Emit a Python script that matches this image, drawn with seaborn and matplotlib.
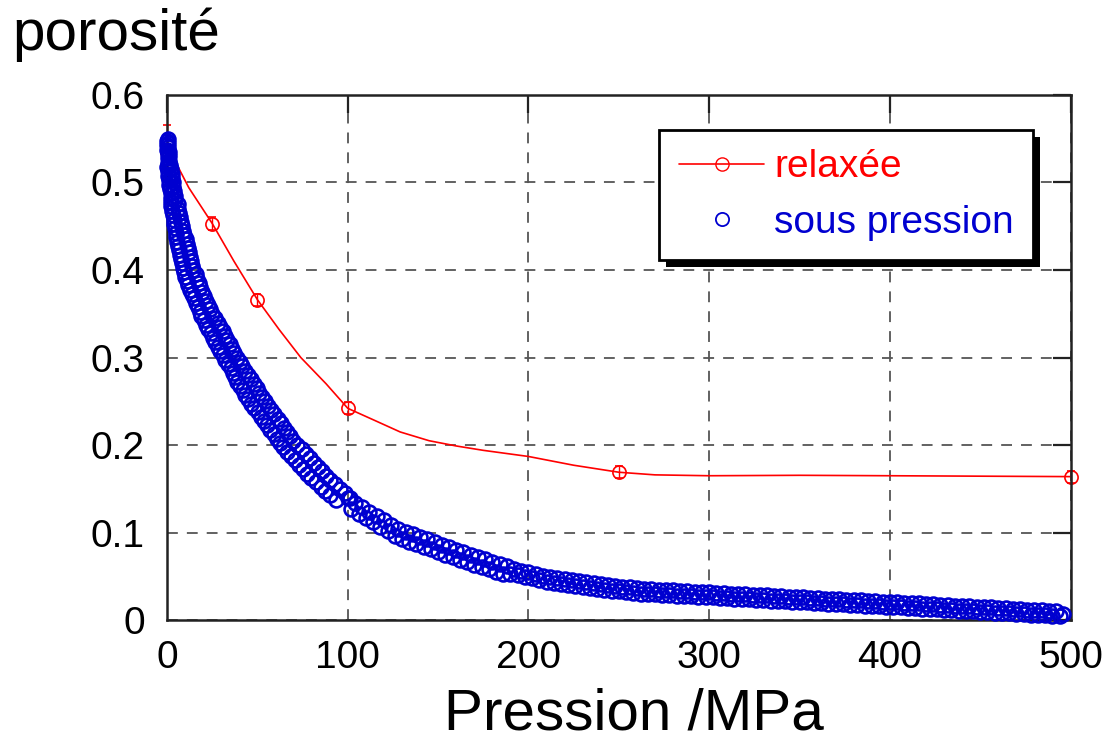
import matplotlib
matplotlib.use("Agg")
import matplotlib.pyplot as plt
import seaborn as sns
from matplotlib.lines import Line2D
from matplotlib.patches import Rectangle
from matplotlib.transforms import IdentityTransform

# ---------------- data ----------------
x_ticks = [0, 100, 200, 300, 400, 500]
y_ticks = [0, 0.1, 0.2, 0.3, 0.4, 0.5, 0.6]
y_tick_labels = ["0", "0.1", "0.2", "0.3", "0.4", "0.5", "0.6"]

# relaxed porosity: measured points with error bars
relaxee_P = [0, 25, 50, 100, 250, 500]
relaxee_phi = [0.535, 0.453, 0.366, 0.242, 0.1695, 0.1638]
relaxee_err = [0.031, 0.007, 0.007, 0.007, 0.007, 0.007]

# relaxed porosity: smooth guide curve
relaxee_curve_P = [0, 5, 12, 25, 37, 50, 62, 74, 88, 100, 114, 129, 145, 160,
                   175, 200, 225, 250, 270, 300, 350, 400, 450, 500]
relaxee_curve_phi = [0.535, 0.522, 0.494, 0.453, 0.41, 0.366, 0.332, 0.300,
                     0.270, 0.242, 0.229, 0.215, 0.205, 0.199, 0.194, 0.187,
                     0.177, 0.169, 0.166, 0.165, 0.1655, 0.165, 0.1645, 0.164]

sp_steep_P = [
    0.3, -0.2, 0.5, -0.05, 0.6, 0.1, 0.8, 0.3, 1.0, 0.5, 1.2, 0.7, 1.4,
    0.2, 2.3, 0.45, 2.6, 0.7, 2.8, 0.9, 3.0, 1.2, 3.4, 1.6, 3.8, 2.0, 4.2,
    2.4, 4.6,
    1.9, 5.9, 2.3, 6.3, 2.7, 6.7, 3.15, 7.2, 3.6, 7.6, 4.05, 8.1, 4.6, 8.7,
    5.15, 9.2,
    4.95, 10.4, 5.45, 10.9, 6.0, 11.5, 6.55, 12.0, 7.1, 12.6, 7.75, 13.3,
    8.4, 13.9, 9.05, 14.6,
    9.2, 16.0, 10.0, 16.8, 10.8, 17.6, 11.6, 18.4, 12.55, 19.5, 13.65, 20.6,
    14.75, 21.7, 15.85, 22.8, 16.9, 23.8, 18.0, 25.0,
    18.85, 26.7, 20.15, 28.0, 21.45, 29.3, 22.8, 30.7, 24.15, 32.0, 25.45,
    33.3, 26.75, 34.6, 28.1, 36.0, 29.45, 37.3, 30.75, 38.6, 32.15, 40.1,
    33.65, 41.6, 35.1, 43.0, 36.55, 44.5,
    37.45, 46.6, 38.95, 48.1, 40.45, 49.6, 41.9, 51.0, 43.35, 52.5, 44.9,
    54.1, 46.55, 55.8, 48.3, 57.6, 50.1, 59.4, 51.85, 61.1, 53.6, 62.9,
    55.35, 64.6, 57.1, 66.4, 58.9, 68.2, 60.65, 69.9, 62.4, 71.7,
    64.05, 74.4, 66.3, 76.6, 68.55, 78.9, 70.8, 81.1, 73.05, 83.4, 75.35,
    85.7, 77.65, 88.0, 79.9, 90.2, 82.25, 92.7, 84.9, 95.5, 87.65, 98.2,
    90.4, 101.0, 93.2]
sp_steep_phi = [
    0.5500, 0.5475, 0.5450, 0.5425, 0.5400, 0.5375, 0.5350, 0.5325, 0.5300,
    0.5275, 0.5250, 0.5225, 0.5200, 0.5175, 0.5150, 0.5125, 0.5100, 0.5075,
    0.5050, 0.5025, 0.5000, 0.4975, 0.4950, 0.4925, 0.4900, 0.4875, 0.4850,
    0.4825, 0.4800, 0.4775, 0.4750, 0.4725, 0.4700, 0.4675, 0.4650, 0.4625,
    0.4600, 0.4575, 0.4550, 0.4525, 0.4500, 0.4475, 0.4450, 0.4425, 0.4400,
    0.4375, 0.4350, 0.4325, 0.4300, 0.4275, 0.4250, 0.4225, 0.4200, 0.4175,
    0.4150, 0.4125, 0.4100, 0.4075, 0.4050, 0.4025, 0.4000, 0.3975, 0.3950,
    0.3925, 0.3900, 0.3875, 0.3850, 0.3825, 0.3800, 0.3775, 0.3750, 0.3725,
    0.3700, 0.3675, 0.3650, 0.3625, 0.3600, 0.3575, 0.3550, 0.3525, 0.3500,
    0.3475, 0.3450, 0.3425, 0.3400, 0.3375, 0.3350, 0.3325, 0.3300, 0.3275,
    0.3250, 0.3225, 0.3200, 0.3175, 0.3150, 0.3125, 0.3100, 0.3075, 0.3050,
    0.3025, 0.3000, 0.2975, 0.2950, 0.2925, 0.2900, 0.2875, 0.2850, 0.2825,
    0.2800, 0.2775, 0.2750, 0.2725, 0.2700, 0.2675, 0.2650, 0.2625, 0.2600,
    0.2575, 0.2550, 0.2525, 0.2500, 0.2475, 0.2450, 0.2425, 0.2400, 0.2375,
    0.2350, 0.2325, 0.2300, 0.2275, 0.2250, 0.2225, 0.2200, 0.2175, 0.2150,
    0.2125, 0.2100, 0.2075, 0.2050, 0.2025, 0.2000, 0.1975, 0.1950, 0.1925,
    0.1900, 0.1875, 0.1850, 0.1825, 0.1800, 0.1775, 0.1750, 0.1725, 0.1700,
    0.1675, 0.1650, 0.1625, 0.1600, 0.1575, 0.1550, 0.1525, 0.1500, 0.1475,
    0.1450, 0.1425, 0.1400, 0.1375]

# porosity under pressure: flat part
sp_flat_P = [
    100, 102, 104, 106, 108, 110, 112, 114, 116, 118, 120, 122, 124, 126, 128,
    130, 132, 134, 136, 138, 140, 142, 144, 146, 148, 150, 152, 154, 156, 158,
    160, 162, 164, 166, 168, 170, 172, 174, 176, 178, 180, 182, 184, 186, 188,
    190, 192, 194, 196, 198, 200, 202, 204, 206, 208, 210, 212, 214, 216, 218,
    220, 222, 224, 226, 228, 230, 232, 234, 236, 238, 240, 242, 244, 246, 248,
    250, 252, 254, 256, 258, 260, 262, 264, 266, 268, 270, 272, 274, 276, 278,
    280, 282, 284, 286, 288, 290, 292, 294, 296, 298, 300, 302, 304, 306, 308,
    310, 312, 314, 316, 318, 320, 322, 324, 326, 328, 330, 332, 334, 336, 338,
    340, 342, 344, 346, 348, 350, 352, 354, 356, 358, 360, 362, 364, 366, 368,
    370, 372, 374, 376, 378, 380, 382, 384, 386, 388, 390, 392, 394, 396, 398,
    400, 402, 404, 406, 408, 410, 412, 414, 416, 418, 420, 422, 424, 426, 428,
    430, 432, 434, 436, 438, 440, 442, 444, 446, 448, 450, 452, 454, 456, 458,
    460, 462, 464, 466, 468, 470, 472, 474, 476, 478, 480, 482, 484, 486, 488,
    490, 492, 494, 496]
sp_flat_phi = [
    0.1394, 0.1269, 0.1343, 0.1218, 0.1292, 0.1167, 0.1241, 0.1116, 0.1190,
    0.1065, 0.1139, 0.1014, 0.1088, 0.0963, 0.1043, 0.0928, 0.1013, 0.0898,
    0.0983, 0.0868, 0.0953, 0.0838, 0.0923, 0.0808, 0.0893, 0.0778, 0.0863,
    0.0748, 0.0833, 0.0719, 0.0805, 0.0692, 0.0778, 0.0664, 0.0750, 0.0636,
    0.0722, 0.0609, 0.0695, 0.0582, 0.0668, 0.0554, 0.0640, 0.0531, 0.0621,
    0.0532, 0.0583, 0.0514, 0.0564, 0.0495, 0.0546, 0.0477, 0.0527, 0.0458,
    0.0509, 0.0440, 0.0490, 0.0425, 0.0479, 0.0413, 0.0467, 0.0402, 0.0456,
    0.0390, 0.0444, 0.0379, 0.0433, 0.0367, 0.0421, 0.0356, 0.0410, 0.0346,
    0.0401, 0.0337, 0.0393, 0.0329, 0.0384, 0.0320, 0.0375, 0.0311,
    0.0365, 0.0305, 0.0357, 0.0299, 0.0353, 0.0295, 0.0348, 0.0290, 0.0344,
    0.0286, 0.0340, 0.0282, 0.0335, 0.0277, 0.0331, 0.0273, 0.0327, 0.0269,
    0.0322, 0.0264, 0.0318, 0.0260, 0.0314, 0.0256, 0.0309, 0.0251, 0.0305,
    0.0247, 0.0301, 0.0243, 0.0296, 0.0238, 0.0292, 0.0234, 0.0287, 0.0229,
    0.0283, 0.0225, 0.0278, 0.0220, 0.0274, 0.0216, 0.0270, 0.0212, 0.0265,
    0.0207, 0.0261, 0.0203, 0.0256, 0.0198, 0.0252, 0.0194, 0.0248, 0.0190,
    0.0243, 0.0185, 0.0239, 0.0181, 0.0234, 0.0176, 0.0230, 0.0172, 0.0226,
    0.0168, 0.0221, 0.0163, 0.0217, 0.0159, 0.0212, 0.0154, 0.0208, 0.0150,
    0.0204, 0.0146, 0.0200, 0.0141, 0.0195, 0.0137, 0.0191, 0.0132, 0.0186,
    0.0128, 0.0182, 0.0123, 0.0177, 0.0119, 0.0173, 0.0115, 0.0168, 0.0110,
    0.0164, 0.0106, 0.0160, 0.0101, 0.0155, 0.0097, 0.0151, 0.0092, 0.0146,
    0.0088, 0.0141, 0.0083, 0.0136, 0.0078, 0.0131, 0.0073, 0.0127, 0.0068,
    0.0122, 0.0064, 0.0117, 0.0059, 0.0112, 0.0054, 0.0107, 0.0049, 0.0103,
    0.0044, 0.0070]

labels = ["relaxée", "sous pression"]
red = "#ff0000"
blue = "#0000d0"

sous_pression_P = sp_steep_P + sp_flat_P
sous_pression_phi = sp_steep_phi + sp_flat_phi

# ---------------- style ----------------
sns.set_theme(style="white")
plt.rcParams["font.family"] = ["Liberation Sans", "DejaVu Sans"]
plt.rcParams["text.color"] = "black"

fig = plt.figure(figsize=(11.14, 7.41), dpi=100)
ax = fig.add_axes([0.150, 0.163, 0.811, 0.709])

# relaxed curve + points
sns.lineplot(x=relaxee_curve_P, y=relaxee_curve_phi, color=red, linewidth=1.2,
             sort=False, estimator=None, ax=ax, zorder=2)
ax.errorbar(relaxee_P, relaxee_phi, yerr=relaxee_err, fmt="o", mfc="none",
            mec=red, ms=9.5, mew=1.2, ecolor=red, elinewidth=1.0, capsize=3,
            zorder=2, clip_on=False)

# under pressure
sns.lineplot(x=sous_pression_P, y=sous_pression_phi, linestyle="", marker="o",
             mfc="none", mec=blue, ms=10, mew=1.9, sort=False, estimator=None,
             ax=ax, zorder=3, clip_on=False)

ax.set_xlim(0, 500)
ax.set_ylim(0, 0.6)
ax.set_xticks(x_ticks)
ax.set_xticklabels([str(v) for v in x_ticks])
ax.set_yticks(y_ticks)
ax.set_yticklabels(y_tick_labels)
ax.set_xlabel("")
ax.set_ylabel("")

ax.set_axisbelow(True)
ax.grid(True, color="#555555", linestyle=(0, (6, 5)), linewidth=1.3)
for s in ax.spines.values():
    s.set_visible(True)
    s.set_color("#222222")
    s.set_linewidth(1.8)
ax.tick_params(axis="both", direction="in", length=13, width=1.6,
               top=True, right=True, labelsize=28, colors="#222222",
               labelcolor="black")
ax.tick_params(axis="y", pad=16)
ax.tick_params(axis="x", pad=14)

fig.text(12 / 1114, 1 - 50 / 741, "porosité", fontsize=42, ha="left",
         va="baseline", color="black")
fig.text(634 / 1114, 1 - 729 / 741, "Pression /MPa", fontsize=42, ha="center",
         va="baseline", color="black")

# legend
h1 = Line2D([], [], color=red, lw=1.2, marker="o", mfc="none", mec=red, ms=9.5)
h2 = Line2D([], [], color=blue, linestyle="", marker="o", mfc="none", mec=blue,
            ms=9.5, mew=1.3)
leg = ax.legend([h1, h2], labels, loc="upper left",
                bbox_to_anchor=(0.545, 0.933), borderaxespad=0, fontsize=28,
                labelcolor="linecolor", frameon=True, fancybox=False,
                edgecolor="black", framealpha=1, handlelength=2.2,
                handletextpad=0.25, borderpad=0.5, labelspacing=0.5,
                numpoints=1)
leg.get_frame().set_linewidth(2)
leg.set_zorder(6)

fig.canvas.draw()
bb = leg.get_window_extent()
ax.add_patch(Rectangle((bb.x0 + 7, bb.y0 - 7), bb.width, bb.height,
                       transform=IdentityTransform(), facecolor="black",
                       edgecolor="none", zorder=5.5, clip_on=False))

fig.savefig("out.png", dpi=100)
